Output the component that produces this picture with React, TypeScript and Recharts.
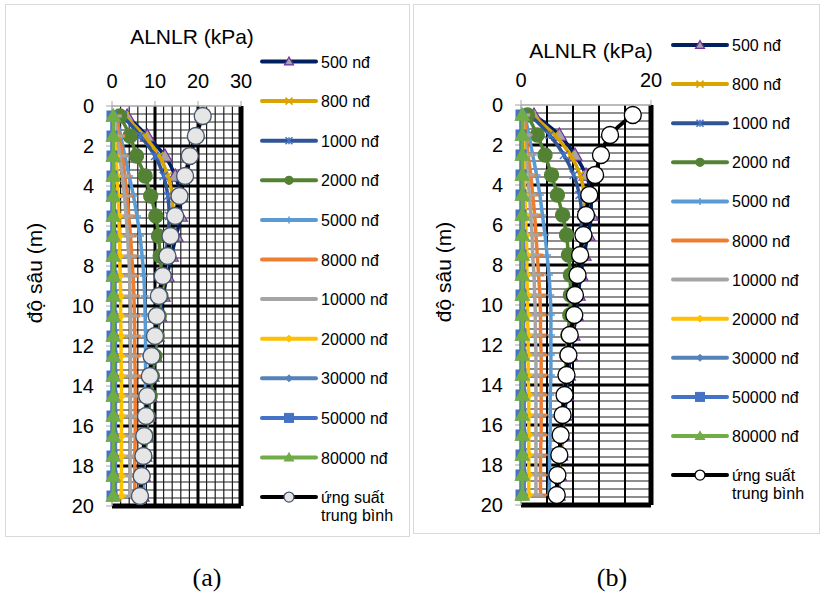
import React from 'react';
import { ScatterChart, Scatter, XAxis, YAxis, CartesianGrid, Label } from 'recharts';

const depths = [0.5, 1.5, 2.5, 3.5, 4.5, 5.5, 6.5, 7.5, 8.5, 9.5, 10.5, 11.5, 12.5, 13.5, 14.5, 15.5, 16.5, 17.5, 18.5, 19.5];
const yTicks = [0, 2, 4, 6, 8, 10, 12, 14, 16, 18, 20];
const xTicksA = [0, 10, 20, 30];
const xTicksB = [0, 20];

const seriesNames = ['500 nđ', '800 nđ', '1000 nđ', '2000 nđ', '5000 nđ', '8000 nđ', '10000 nđ', '20000 nđ', '30000 nđ', '50000 nđ', '80000 nđ', 'ứng suất trung bình'];

// panel (a)
const a500 = [3.5, 8.2, 12.3, 14.7, 15.9, 15.9, 14.9, 13.8, 12.8, 11.9, 11.1, 10.5, 9.9, 9.3, 8.8, 8.4, 8.0, 7.6, 7.3, 7.0];
const a800 = [3.0, 7.5, 11.0, 13.0, 14.0, 14.2, 13.7, 13.0, 12.2, 11.5, 10.8, 10.2, 9.6, 9.1, 8.6, 8.2, 7.8, 7.4, 7.1, 6.8];
const a1000 = [2.5, 6.6, 10.0, 12.0, 13.0, 13.3, 13.0, 12.5, 11.9, 11.2, 10.6, 10.0, 9.4, 8.9, 8.5, 8.1, 7.7, 7.3, 7.0, 6.7];
const a2000 = [1.8, 4.2, 5.7, 7.7, 9.0, 10.2, 10.8, 11.2, 11.5, 11.4, 11.0, 10.5, 10.0, 9.4, 8.9, 8.4, 8.0, 7.6, 7.2, 6.8];
const a5000 = [1.0, 2.0, 3.0, 4.0, 5.0, 5.8, 6.5, 7.0, 7.4, 7.6, 7.7, 7.8, 7.8, 7.8, 7.8, 7.7, 7.6, 7.5, 7.4, 7.3];
const a8000 = [0.8, 1.7, 2.4, 3.0, 3.5, 3.9, 4.3, 4.6, 4.9, 5.1, 5.2, 5.3, 5.3, 5.4, 5.4, 5.4, 5.4, 5.3, 5.3, 5.3];
const a10000 = [0.6, 1.2, 1.8, 2.4, 2.9, 3.3, 3.6, 3.9, 4.1, 4.2, 4.3, 4.3, 4.3, 4.3, 4.3, 4.3, 4.3, 4.2, 4.2, 4.2];
const a20000 = [0.3, 0.6, 0.9, 1.2, 1.4, 1.6, 1.7, 1.8, 1.9, 2.0, 2.0, 2.1, 2.1, 2.2, 2.2, 2.2, 2.2, 2.2, 2.2, 2.2];
const a30000 = [0.1, 0.2, 0.3, 0.4, 0.5, 0.5, 0.6, 0.6, 0.7, 0.7, 0.7, 0.8, 0.8, 0.8, 0.8, 0.8, 0.8, 0.8, 0.8, 0.8];
const a50000 = [0, 0, 0, 0, 0, 0, 0, 0, 0, 0, 0, 0, 0, 0, 0, 0, 0, 0, 0, 0];
const a80000 = [0.3, 0.3, 0.3, 0.3, 0.3, 0.3, 0.3, 0.3, 0.3, 0.3, 0.3, 0.3, 0.3, 0.3, 0.3, 0.3, 0.3, 0.3, 0.3, 0.3];
const aMean = [21.1, 19.5, 18.1, 17.0, 15.7, 14.7, 13.6, 12.9, 11.8, 10.9, 10.4, 10.0, 9.2, 8.8, 8.2, 7.9, 7.5, 7.3, 6.9, 6.5];

// panel (b)
const b500 = [2.0, 5.9, 8.3, 10.0, 10.8, 10.8, 10.3, 9.7, 9.2, 8.8, 8.5, 8.0, 7.6, 7.3, 7.0, 6.7, 6.4, 6.1, 5.9, 5.7];
const b800 = [1.7, 5.2, 7.6, 9.1, 9.7, 9.8, 9.5, 9.1, 8.7, 8.4, 8.1, 7.8, 7.4, 7.1, 6.8, 6.5, 6.3, 6.0, 5.8, 5.6];
const b1000 = [1.4, 4.4, 6.6, 8.1, 9.0, 9.3, 9.3, 9.0, 8.6, 8.3, 8.0, 7.6, 7.3, 7.0, 6.7, 6.4, 6.2, 5.9, 5.7, 5.5];
const b2000 = [1.0, 2.5, 3.7, 4.7, 5.6, 6.4, 7.0, 7.3, 7.6, 7.6, 7.5, 7.2, 7.0, 6.8, 6.6, 6.3, 6.1, 5.9, 5.6, 5.4];
const b5000 = [0.6, 1.2, 1.8, 2.4, 2.9, 3.3, 3.7, 4.0, 4.3, 4.5, 4.6, 4.6, 4.6, 4.6, 4.5, 4.5, 4.5, 4.4, 4.4, 4.3];
const b8000 = [0.5, 0.8, 1.1, 1.5, 1.8, 2.1, 2.3, 2.5, 2.7, 2.9, 3.0, 3.0, 3.1, 3.1, 3.1, 3.1, 3.1, 3.0, 3.0, 3.0];
const b10000 = [0.3, 0.5, 0.8, 1.0, 1.3, 1.5, 1.7, 1.8, 2.0, 2.1, 2.2, 2.2, 2.3, 2.3, 2.3, 2.3, 2.3, 2.3, 2.3, 2.3];
const b20000 = [0.2, 0.3, 0.4, 0.5, 0.6, 0.7, 0.8, 0.9, 0.9, 1.0, 1.0, 1.1, 1.1, 1.1, 1.2, 1.2, 1.2, 1.2, 1.2, 1.2];
const b30000 = [0.1, 0.1, 0.2, 0.2, 0.3, 0.3, 0.3, 0.4, 0.4, 0.4, 0.4, 0.4, 0.5, 0.5, 0.5, 0.5, 0.5, 0.5, 0.5, 0.5];
const b50000 = [0, 0, 0, 0, 0, 0, 0, 0, 0, 0, 0, 0, 0, 0, 0, 0, 0, 0, 0, 0];
const b80000 = [0.2, 0.2, 0.2, 0.2, 0.2, 0.2, 0.2, 0.2, 0.2, 0.2, 0.2, 0.2, 0.2, 0.2, 0.2, 0.2, 0.2, 0.2, 0.2, 0.2];
const bMean = [17.2, 13.7, 12.3, 11.4, 10.5, 10.0, 9.6, 9.1, 8.7, 8.3, 8.2, 7.5, 7.3, 7.0, 6.7, 6.4, 6.1, 5.9, 5.6, 5.5];

const valuesA = [a500, a800, a1000, a2000, a5000, a8000, a10000, a20000, a30000, a50000, a80000, aMean];
const valuesB = [b500, b800, b1000, b2000, b5000, b8000, b10000, b20000, b30000, b50000, b80000, bMean];

// how each series looks (same in both panels, except the mean marker fill)
const looks = [
  { color: '#002060', kind: 'triangle', size: 14, legendSize: 9, fill: '#A5A5A5', edge: '#7030A0', width: 3.5 },
  { color: '#D9A300', kind: 'x', size: 8, legendSize: 7, fill: 'none', edge: '#D9A300', width: 3.5 },
  { color: '#2F5597', kind: 'star', size: 8, legendSize: 7, fill: 'none', edge: '#4472C4', width: 3.5 },
  { color: '#548235', kind: 'circle', size: 14, legendSize: 8, fill: '#548235', edge: '#548235', width: 3.5 },
  { color: '#5B9BD5', kind: 'plus', size: 8, legendSize: 7, fill: 'none', edge: '#5B9BD5', width: 3.5 },
  { color: '#ED7D31', kind: 'dash', size: 12, legendSize: 0, fill: 'none', edge: '#ED7D31', width: 3.5 },
  { color: '#A5A5A5', kind: 'dash', size: 14, legendSize: 0, fill: 'none', edge: '#A5A5A5', width: 3.5 },
  { color: '#FFC000', kind: 'diamond', size: 8, legendSize: 7, fill: '#FFC000', edge: '#FFC000', width: 3.5 },
  { color: '#5582B9', kind: 'diamond', size: 7, legendSize: 7, fill: '#5582B9', edge: '#5582B9', width: 3.5 },
  { color: '#4472C4', kind: 'square', size: 10, legendSize: 9, fill: '#4472C4', edge: '#4472C4', width: 3.5 },
  { color: '#70AD47', kind: 'triangle', size: 14, legendSize: 9, fill: '#70AD47', edge: '#70AD47', width: 3.5 },
  { color: '#000000', kind: 'circle', size: 17, legendSize: 10, fill: '#E7E6E6', edge: '#404040', width: 4 },
];

const font = '"Liberation Sans", Arial, sans-serif';

const minorY = Array.from({ length: 49 }, (_, i) => Math.round((i + 1) * 4) / 10).filter((v) => v % 2 !== 0);
const majorY = [2, 4, 6, 8, 10, 12, 14, 16, 18];

function Marker({ kind, cx, cy, size, fill, edge }: any) {
  const h = size / 2;
  if (!size || cx == null || cy == null) return <g />;
  switch (kind) {
    case 'triangle':
      return <polygon points={`${cx},${cy - h} ${cx - h},${cy + h * 0.75} ${cx + h},${cy + h * 0.75}`} fill={fill} stroke={edge} strokeWidth={1.2} />;
    case 'circle':
      return <circle cx={cx} cy={cy} r={h} fill={fill} stroke={edge} strokeWidth={1.3} />;
    case 'square':
      return <rect x={cx - h} y={cy - h} width={size} height={size} fill={fill} stroke={edge} />;
    case 'diamond':
      return <polygon points={`${cx},${cy - h} ${cx + h},${cy} ${cx},${cy + h} ${cx - h},${cy}`} fill={fill} stroke={edge} />;
    case 'x':
      return <path d={`M${cx - h},${cy - h}L${cx + h},${cy + h}M${cx - h},${cy + h}L${cx + h},${cy - h}`} stroke={edge} strokeWidth={1.5} />;
    case 'star':
      return <path d={`M${cx - h},${cy - h}L${cx + h},${cy + h}M${cx - h},${cy + h}L${cx + h},${cy - h}M${cx},${cy - h}L${cx},${cy + h}`} stroke={edge} strokeWidth={1.5} />;
    case 'plus':
      return <path d={`M${cx - h},${cy}L${cx + h},${cy}M${cx},${cy - h}L${cx},${cy + h}`} stroke={edge} strokeWidth={1.5} />;
    case 'dash':
      return <line x1={cx - h} x2={cx + h} y1={cy} y2={cy} stroke={edge} strokeWidth={3} />;
    default:
      return <g />;
  }
}

function LegendBox({ left, top, gap, meanFill, meanEdge }: any) {
  return (
    <svg style={{ position: 'absolute', left, top: 0 }} width={160} height={540}>
      {seriesNames.map((name, i) => {
        const lk = looks[i];
        const cy = top + gap * i;
        const isMean = i === seriesNames.length - 1;
        return (
          <g key={name}>
            <line x1={2} x2={56} y1={cy} y2={cy} stroke={lk.color} strokeWidth={4} strokeLinecap="round" />
            <Marker kind={lk.kind} cx={29} cy={cy} size={lk.legendSize}
              fill={isMean ? meanFill : lk.fill} edge={isMean ? meanEdge : lk.edge} />
            {isMean ? (
              <text x={61} y={cy + 6} fontSize={16} fontFamily={font} fill="#000">
                <tspan x={61}>ứng suất</tspan>
                <tspan x={61} dy={18}>trung bình</tspan>
              </text>
            ) : (
              <text x={61} y={cy + 6} fontSize={16} fontFamily={font} fill="#000">{name}</text>
            )}
          </g>
        );
      })}
    </svg>
  );
}

function Panel({ left, width, values, xMax, xTicks, minorX, midX, majorX, margin, title, yTitle, meanFill, meanEdge }: any) {
  return (
    <div style={{ position: 'absolute', left, top: 0 }}>
      <ScatterChart width={width} height={540} margin={margin}>
        <CartesianGrid horizontalValues={minorY} vertical={false} stroke="#1f1f1f" strokeWidth={1.2} />
        {minorX.length > 0 && <CartesianGrid verticalValues={minorX} horizontal={false} stroke="#1f1f1f" strokeWidth={1.2} />}
        {midX.length > 0 && <CartesianGrid verticalValues={midX} horizontal={false} stroke="#000" strokeWidth={2} />}
        <CartesianGrid horizontalValues={majorY} vertical={false} stroke="#000" strokeWidth={3} />
        {majorX.length > 0 && <CartesianGrid verticalValues={majorX} horizontal={false} stroke="#000" strokeWidth={3} />}
        <CartesianGrid horizontalValues={[20]} verticalValues={[xMax]} stroke="#000" strokeWidth={5} />
        <XAxis type="number" dataKey="x" orientation="top" domain={[0, xMax]} ticks={xTicks} interval={0}
          height={30} tickSize={5} tickMargin={13}
          axisLine={{ stroke: '#A6A6A6', strokeWidth: 1.5 }} tickLine={{ stroke: '#A6A6A6' }}
          tick={{ fill: '#000', fontSize: 20, fontFamily: font }}>
          <Label content={() => (
            <text x={title.x} y={title.y} textAnchor="middle" fontSize={21} fontFamily={font} fill="#000">ALNLR (kPa)</text>
          )} />
        </XAxis>
        <YAxis type="number" dataKey="y" reversed domain={[0, 20]} ticks={yTicks} interval={0}
          width={40} tickSize={6} tickMargin={12}
          axisLine={{ stroke: '#A6A6A6', strokeWidth: 1.5 }} tickLine={{ stroke: '#A6A6A6' }}
          tick={{ fill: '#000', fontSize: 20, fontFamily: font }}>
          <Label content={() => (
            <text x={yTitle.x} y={yTitle.y} dy={7} textAnchor="middle" fontSize={21} fontFamily={font} fill="#000"
              transform={`rotate(-90 ${yTitle.x} ${yTitle.y})`}>độ sâu (m)</text>
          )} />
        </YAxis>
        {values.map((vals: number[], i: number) => {
          const lk = looks[i];
          const isMean = i === values.length - 1;
          const data = depths.map((d, k) => ({ x: vals[k], y: d }));
          return (
            <Scatter key={seriesNames[i]} name={seriesNames[i]} data={data} fill={lk.color}
              line={{ stroke: lk.color, strokeWidth: lk.width }} lineJointType="monotoneY"
              isAnimationActive={false}
              shape={(p: any) => (
                <Marker kind={lk.kind} cx={p.cx} cy={p.cy} size={lk.size}
                  fill={isMean ? meanFill : lk.fill} edge={isMean ? meanEdge : lk.edge} />
              )} />
          );
        })}
      </ScatterChart>
    </div>
  );
}

export default function App() {
  return (
    <div style={{ position: 'absolute', left: 0, top: 0, width: 821, height: 593, background: '#fff' }}>
      <svg style={{ position: 'absolute', left: 0, top: 0 }} width={821} height={593}>
        <rect x={5.5} y={4.5} width={404} height={532} fill="none" stroke="#D9D9D9" />
        <rect x={413.5} y={4.5} width={406} height={529} fill="none" stroke="#D9D9D9" />
        <text x={207} y={586} textAnchor="middle" fontSize={26} fontFamily='"Liberation Serif", "Times New Roman", serif'>(a)</text>
        <text x={612} y={586} textAnchor="middle" fontSize={26} fontFamily='"Liberation Serif", "Times New Roman", serif'>(b)</text>
      </svg>
      <Panel left={0} width={410} values={valuesA} xMax={30} xTicks={xTicksA}
        minorX={[2, 4, 6, 8, 12, 14, 16, 18, 22, 24, 26, 28]} midX={[]} majorX={[10, 20]}
        margin={{ top: 76, right: 169, bottom: 34, left: 72 }}
        title={{ x: 192, y: 44 }} yTitle={{ x: 35, y: 273 }}
        meanFill="#E7E6E6" meanEdge="#44546A" />
      <LegendBox left={260} top={61.5} gap={39.6} meanFill="#E7E6E6" meanEdge="#44546A" />
      <Panel left={410} width={411} values={valuesB} xMax={20} xTicks={xTicksB}
        minorX={[]} midX={[4, 8, 12, 16]} majorX={[]}
        margin={{ top: 75, right: 170, bottom: 35, left: 71 }}
        title={{ x: 181, y: 58 }} yTitle={{ x: 34, y: 272 }}
        meanFill="#FFFFFF" meanEdge="#000000" />
      <LegendBox left={671} top={45} gap={39.1} meanFill="#FFFFFF" meanEdge="#000000" />
    </div>
  );
}
